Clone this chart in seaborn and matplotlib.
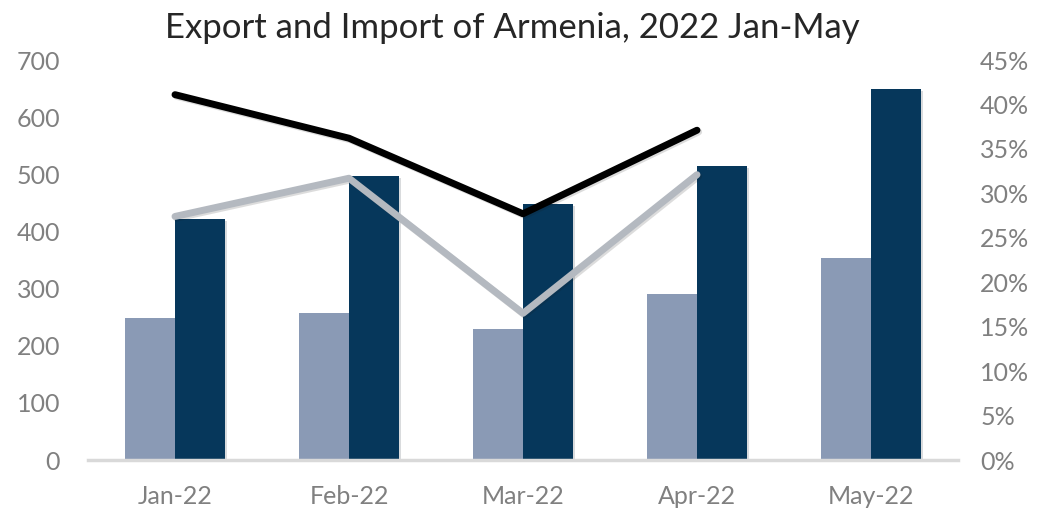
import numpy as np
import pandas as pd
import matplotlib
matplotlib.use("Agg")
import matplotlib.pyplot as plt
import matplotlib.patheffects as pe
import seaborn as sns
from matplotlib.ticker import FuncFormatter, MultipleLocator

months = ["Jan-22", "Feb-22", "Mar-22", "Apr-22", "May-22"]
export_vals = [249, 257, 229, 291, 354]
import_vals = [421, 497, 448, 514, 649]
line_months = ["Jan-22", "Feb-22", "Mar-22", "Apr-22"]
black_line = [41.1, 36.2, 27.7, 37.1]
gray_line = [27.4, 31.7, 16.5, 32.1]

sns.set_theme(style="white")
plt.rcParams['font.family'] = ['Lato', 'DejaVu Sans']

df = pd.DataFrame({
    "month": months * 2,
    "value": export_vals + import_vals,
    "series": ["Export"] * 5 + ["Import"] * 5,
})

fig = plt.figure(figsize=(10.53, 5.16), dpi=100)
ax = fig.add_axes([88 / 1053, 1 - 460 / 516, (958 - 88) / 1053, 400 / 516])

shadow = [pe.SimplePatchShadow(offset=(1.2, -1.2), alpha=0.15), pe.Normal()]
sns.barplot(data=df, x="month", y="value", hue="series", order=months,
            palette={"Export": "#8A9AB5", "Import": "#06375B"},
            width=0.58, gap=0, saturation=1, legend=False, ax=ax)
for p in ax.patches:
    p.set_path_effects(shadow)
    p.set_linewidth(0)

ax.set_ylim(0, 700)
ax.set_xlim(-0.5, 4.5)
ax.yaxis.set_major_locator(MultipleLocator(100))
ax.set_xlabel("")
ax.set_ylabel("")
for s in ["top", "right", "left"]:
    ax.spines[s].set_visible(False)
ax.spines["bottom"].set_color("#D9D9D9")
ax.spines["bottom"].set_linewidth(2.5)
ax.tick_params(axis="both", length=0, labelsize=18, labelcolor="#808080")
ax.tick_params(axis="x", pad=18)
ax.tick_params(axis="y", pad=20)

ax2 = ax.twinx()
xpos = np.arange(len(line_months))
lshadow = [pe.SimpleLineShadow(offset=(1.2, -1.2), alpha=0.15), pe.Normal()]
sns.lineplot(x=xpos, y=gray_line, color="#B4B9C0", linewidth=5, ax=ax2)
sns.lineplot(x=xpos, y=black_line, color="#000000", linewidth=5, ax=ax2)
for ln in ax2.lines:
    ln.set_solid_capstyle("round")
    ln.set_path_effects(lshadow)
ax2.set_ylim(0, 45)
ax2.set_xlim(-0.5, 4.5)
ax2.yaxis.set_major_locator(MultipleLocator(5))
ax2.yaxis.set_major_formatter(FuncFormatter(lambda v, p: f"{v:.0f}%"))
for s in ["top", "right", "left", "bottom"]:
    ax2.spines[s].set_visible(False)
ax2.tick_params(axis="y", length=0, labelsize=18, labelcolor="#808080", pad=16)
ax2.grid(False)
ax.grid(False)

fig.text(0.487, 0.945, "Export and Import of Armenia, 2022 Jan-May",
         ha="center", va="center", fontsize=25, color="#262626")

fig.savefig("out.png", dpi=100)
